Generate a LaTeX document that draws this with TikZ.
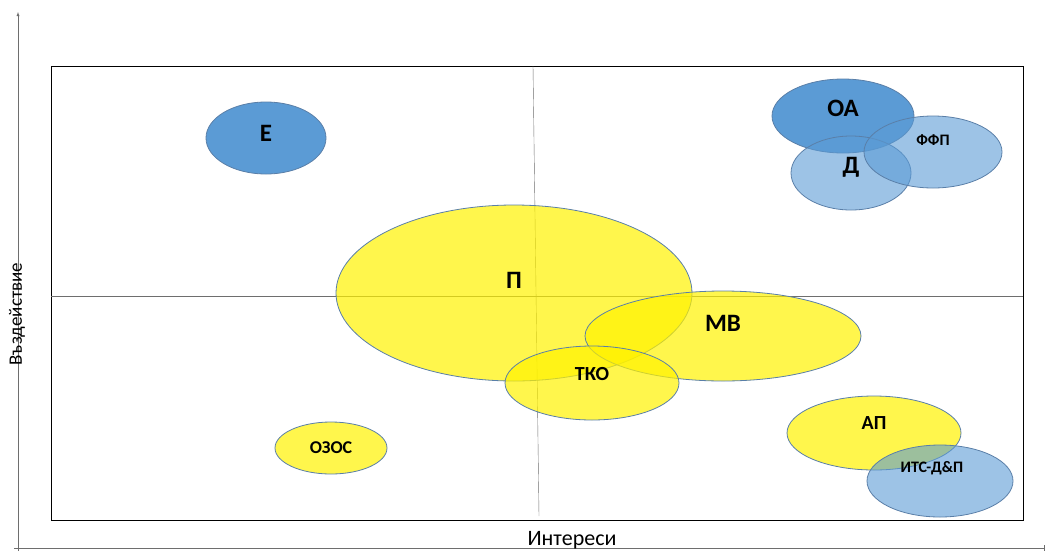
\documentclass[tikz,border=0pt]{standalone}
\usepackage{fontspec}
\setmainfont{Carlito}
\usetikzlibrary{shapes.geometric}
\definecolor{offblue}{HTML}{5B9BD5}
\definecolor{rimblue}{HTML}{5A7FA8}
\definecolor{axisgray}{HTML}{6E6E6E}
\tikzset{
  blob/.style={ellipse,draw=rimblue,line width=0.8pt,inner sep=0pt},
  yel/.style={blob,fill=yellow,fill opacity=0.7,text opacity=1},
  dark/.style={blob,fill=offblue},
  pale/.style={blob,fill=offblue,fill opacity=0.6,text opacity=1},
  big/.style={font=\bfseries\fontsize{25}{27}\selectfont},
  mid/.style={font=\bfseries\fontsize{20}{22}\selectfont},
  small/.style={font=\bfseries\fontsize{16}{18}\selectfont}
}
\begin{document}
\begin{tikzpicture}[x=1pt,y=-1pt]
      \useasboundingbox (0,0) rectangle (1046,552) ;
      % axes
      \coordinate (O) at (18,548) ;
      \coordinate (ytop) at (18,12) ;
      \coordinate (xend) at (1044,548) ;
      \draw[axisgray,thin,->,>=latex] (18,551)--(ytop) ;
      \draw[axisgray,thin,-|] (14,548)--(xend) ;
      \node[font=\fontsize{19}{21}\selectfont,rotate=90] (yl) at (17,314) {Въздействие} ;
      \node[font=\fontsize{22}{24}\selectfont] (xl) at (572,540) {Интереси} ;
      % frame and quadrants
      \draw[black,line width=1pt] (51,66) rectangle (1023,520) ;
      \draw[axisgray,thin] (51,296)--(1023,296) ;
      \draw[axisgray,thin] (533,66)--(539,516) ;
      % yellow group
      \node[yel,minimum width=356pt,minimum height=176pt,label={[big,yshift=13pt]center:П}] (P) at (514,293) {} ;
      \node[yel,minimum width=276pt,minimum height=90pt,label={[big,yshift=13pt]center:МВ}] (MV) at (723,336) {} ;
      \node[yel,minimum width=174pt,minimum height=74pt,label={[mid,yshift=9pt]center:ТКО}] (TKO) at (592,383) {} ;
      \node[yel,minimum width=112pt,minimum height=52pt,font=\bfseries\fontsize{18}{20}\selectfont] (OZOS) at (331,448) {ОЗОС} ;
      \node[yel,minimum width=174pt,minimum height=74pt,label={[mid,yshift=10pt]center:АП}] (AP) at (874,433) {} ;
      % blue group
      \node[dark,minimum width=120pt,minimum height=72pt,label={[big,yshift=5pt]center:Е}] (E) at (266,138) {} ;
      \node[dark,minimum width=142pt,minimum height=74pt,label={[big,yshift=8pt]center:ОА}] (OA) at (843,116) {} ;
      \node[pale,minimum width=120pt,minimum height=74pt,label={[big,yshift=6pt]center:Д}] (D) at (851,173) {} ;
      \node[pale,minimum width=138pt,minimum height=72pt,label={[small,yshift=12pt]center:ФФП}] (FFP) at (933,152) {} ;
      \node[pale,minimum width=146pt,minimum height=72pt,label={[small,yshift=13pt,xshift=-8pt]center:ИТС-Д\&П}] (ITS) at (940,481) {} ;
\end{tikzpicture}
\end{document}
